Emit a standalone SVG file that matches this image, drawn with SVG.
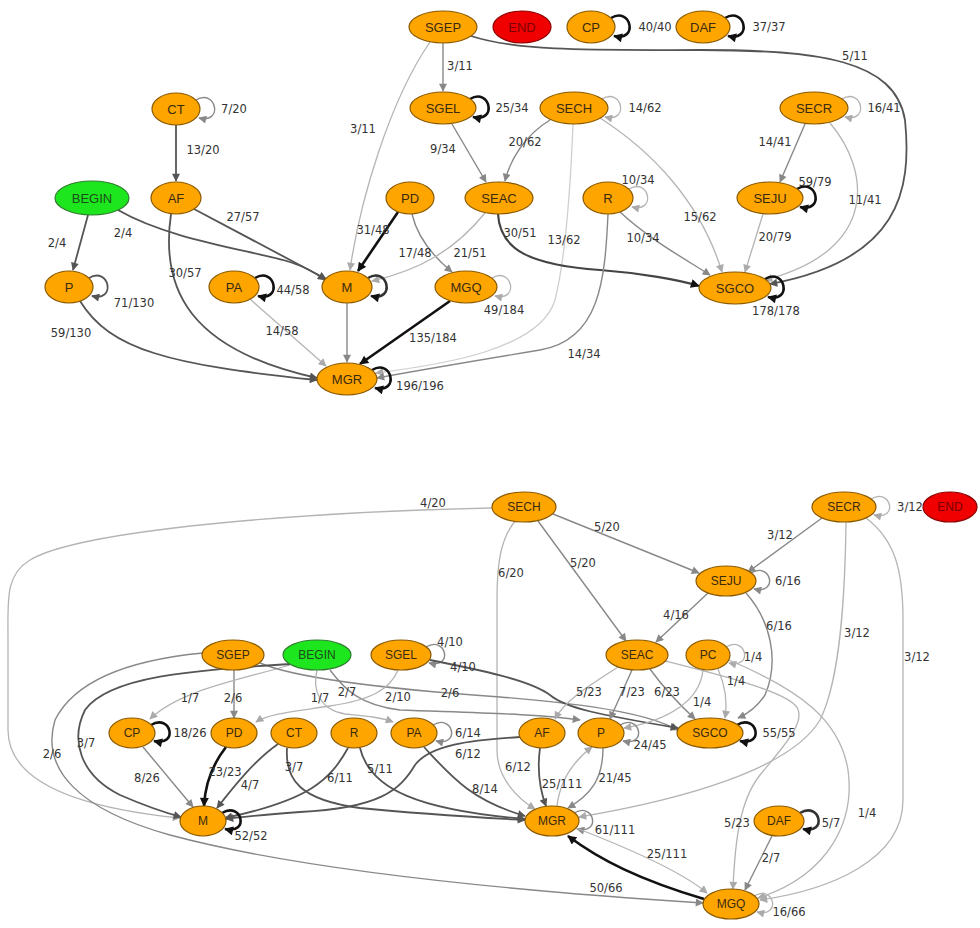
<svg xmlns="http://www.w3.org/2000/svg" width="980" height="928" viewBox="0 0 980 928">
<defs>
<marker id="ad" viewBox="0 0 10 10" refX="9" refY="5" markerWidth="11" markerHeight="9" markerUnits="userSpaceOnUse" orient="auto"><path d="M0,0 L10,5 L0,10 z" fill="#111"/></marker>
<marker id="am" viewBox="0 0 10 10" refX="9" refY="5" markerWidth="10" markerHeight="8" markerUnits="userSpaceOnUse" orient="auto"><path d="M0,0 L10,5 L0,10 z" fill="#555"/></marker>
<marker id="ag" viewBox="0 0 10 10" refX="9" refY="5" markerWidth="10" markerHeight="8" markerUnits="userSpaceOnUse" orient="auto"><path d="M0,0 L10,5 L0,10 z" fill="#888"/></marker>
<marker id="al" viewBox="0 0 10 10" refX="9" refY="5" markerWidth="10" markerHeight="8" markerUnits="userSpaceOnUse" orient="auto"><path d="M0,0 L10,5 L0,10 z" fill="#aaa"/></marker>
</defs>
<style>
.e{fill:none}
.d{stroke:#111;stroke-width:2.6;marker-end:url(#ad)}
.m{stroke:#555;stroke-width:1.8;marker-end:url(#am)}
.g{stroke:#888;stroke-width:1.4;marker-end:url(#ag)}
.l{stroke:#b4b4b4;stroke-width:1.3;marker-end:url(#al)}
.n ellipse{fill:#FFA500;stroke:#8a5a00;stroke-width:1.2}
.n text{font-family:"Liberation Sans",Arial,sans-serif;font-size:13px;fill:#3a2a10;text-anchor:middle}
.b text{font-size:12px}
.st ellipse{fill:#1ee61e;stroke:#2d7d2d}
.st text{fill:#1a4d1a}
.en ellipse{fill:#f00000;stroke:#8b0000}
.en text{fill:#7a0000}
.lb{font-family:"DejaVu Sans",Verdana,sans-serif;font-size:11.5px;fill:#333;text-anchor:middle}
</style>
<rect width="980" height="928" fill="#fff"/>

<g id="edges-top">
<path class="e g" d="M196,100 C216,88 224,124 199,118"/>
<path class="e m" d="M176,125 L176,181"/>
<path class="e m" d="M88,215 L73,270"/>
<path class="e m" d="M118,210 C170,240 250,250 290,262 C305,267 315,272 325,280"/>
<path class="e m" d="M194,209 L326,279"/>
<path class="e m" d="M171,214 C160,290 190,350 317,378"/>
<path class="e m" d="M89,278 C109,266 117,302 92,296"/>
<path class="e m" d="M80,301 C110,350 170,365 317,380"/>
<path class="e d" d="M255,278 C275,266 283,302 258,296"/>
<path class="e l" d="M250,299 L326,366"/>
<path class="e g" d="M443,43 L443,91"/>
<path class="e l" d="M430,42 C390,100 360,200 350,270"/>
<path class="e m" d="M471,36 C520,52 600,50 700,50 C820,50 895,60 905,120 C912,190 900,260 770,284"/>
<path class="e d" d="M470,99 C490,87 498,123 473,117"/>
<path class="e g" d="M452,124 L486,182"/>
<path class="e l" d="M602,99 C622,87 630,123 605,117"/>
<path class="e g" d="M550,120 C525,135 510,160 505,181"/>
<path class="e l" style="stroke:#cfcfcf" d="M573,124 C570,200 565,260 555,300 C540,350 440,365 376,373"/>
<path class="e l" d="M600,118 C650,150 700,200 722,272"/>
<path class="e d" d="M398,212 L358,271"/>
<path class="e g" d="M412,214 C418,240 435,258 452,272"/>
<path class="e l" d="M485,213 C455,250 420,270 372,281"/>
<path class="e d" style="stroke:#444;stroke-width:2.2" d="M498,214 C500,250 530,265 600,270 C640,273 680,280 699,286"/>
<path class="e l" d="M629,189 C649,177 657,213 632,207"/>
<path class="e g" d="M620,212 C650,240 690,262 710,275"/>
<path class="e g" d="M608,214 C605,280 600,340 540,350 C480,360 420,370 377,378"/>
<path class="e d" style="stroke:#333" d="M368,278 C388,266 396,302 371,296"/>
<path class="e g" d="M347,303 L347,362"/>
<path class="e l" d="M492,278 C512,266 520,302 495,296"/>
<path class="e d" d="M450,301 L360,364"/>
<path class="e d" d="M372,370 C392,358 400,394 375,388"/>
<path class="e l" d="M842,99 C862,87 870,123 845,117"/>
<path class="e g" d="M805,124 L780,182"/>
<path class="e l" d="M830,123 C870,170 880,250 765,280"/>
<path class="e d" d="M797,189 C817,177 825,213 800,207"/>
<path class="e l" d="M763,214 L745,272"/>
<path class="e d" d="M765,279 C785,267 793,303 768,297"/>
<path class="e d" d="M611,18 C631,6 639,42 614,36"/>
<path class="e d" d="M725,18 C745,6 753,42 728,36"/>
</g>

<g id="labels-top">
<text class="lb" x="234" y="113">7/20</text>
<text class="lb" x="203" y="154">13/20</text>
<text class="lb" x="57" y="247">2/4</text>
<text class="lb" x="123" y="237">2/4</text>
<text class="lb" x="243" y="221">27/57</text>
<text class="lb" x="185" y="277">30/57</text>
<text class="lb" x="293" y="294">44/58</text>
<text class="lb" x="134" y="307">71/130</text>
<text class="lb" x="71" y="337">59/130</text>
<text class="lb" x="282" y="335">14/58</text>
<text class="lb" x="460" y="70">3/11</text>
<text class="lb" x="512" y="112">25/34</text>
<text class="lb" x="645" y="112">14/62</text>
<text class="lb" x="363" y="133">3/11</text>
<text class="lb" x="443" y="153">9/34</text>
<text class="lb" x="525" y="146">20/62</text>
<text class="lb" x="638" y="184">10/34</text>
<text class="lb" x="373" y="234">31/48</text>
<text class="lb" x="415" y="257">17/48</text>
<text class="lb" x="470" y="257">21/51</text>
<text class="lb" x="520" y="237">30/51</text>
<text class="lb" x="564" y="244">13/62</text>
<text class="lb" x="643" y="242">10/34</text>
<text class="lb" x="700" y="221">15/62</text>
<text class="lb" x="775" y="146">14/41</text>
<text class="lb" x="884" y="112">16/41</text>
<text class="lb" x="815" y="186">59/79</text>
<text class="lb" x="865" y="204">11/41</text>
<text class="lb" x="775" y="241">20/79</text>
<text class="lb" x="855" y="60">5/11</text>
<text class="lb" x="655" y="31">40/40</text>
<text class="lb" x="769" y="31">37/37</text>
<text class="lb" x="504" y="314">49/184</text>
<text class="lb" x="433" y="342">135/184</text>
<text class="lb" x="584" y="358">14/34</text>
<text class="lb" x="420" y="390">196/196</text>
<text class="lb" x="776" y="315">178/178</text>
</g>

<g id="t-SGEP" class="n"><ellipse cx="443" cy="27" rx="34" ry="16"/><text x="443" y="32">SGEP</text></g>
<g id="t-END" class="n en"><ellipse cx="522" cy="27" rx="29" ry="16"/><text x="522" y="32">END</text></g>
<g id="t-CP" class="n"><ellipse cx="591" cy="27" rx="24" ry="16"/><text x="591" y="32">CP</text></g>
<g id="t-DAF" class="n"><ellipse cx="703" cy="27" rx="27" ry="16"/><text x="703" y="32">DAF</text></g>
<g id="t-SGEL" class="n"><ellipse cx="443" cy="108" rx="33" ry="16"/><text x="443" y="113">SGEL</text></g>
<g id="t-SECH" class="n"><ellipse cx="574" cy="108" rx="34" ry="16"/><text x="574" y="113">SECH</text></g>
<g id="t-CT" class="n"><ellipse cx="176" cy="109" rx="24" ry="16"/><text x="176" y="114">CT</text></g>
<g id="t-SECR" class="n"><ellipse cx="814" cy="108" rx="34" ry="16"/><text x="814" y="113">SECR</text></g>
<g id="t-AF" class="n"><ellipse cx="176" cy="198" rx="25" ry="16"/><text x="176" y="203">AF</text></g>
<g id="t-BEGIN" class="n st"><ellipse cx="92" cy="198" rx="37" ry="17"/><text x="92" y="203">BEGIN</text></g>
<g id="t-PD" class="n"><ellipse cx="410" cy="198" rx="24" ry="16"/><text x="410" y="203">PD</text></g>
<g id="t-SEAC" class="n"><ellipse cx="499" cy="198" rx="34" ry="16"/><text x="499" y="203">SEAC</text></g>
<g id="t-R" class="n"><ellipse cx="608" cy="198" rx="25" ry="16"/><text x="608" y="203">R</text></g>
<g id="t-SEJU" class="n"><ellipse cx="770" cy="198" rx="33" ry="16"/><text x="770" y="203">SEJU</text></g>
<g id="t-P" class="n"><ellipse cx="69" cy="287" rx="24" ry="16"/><text x="69" y="292">P</text></g>
<g id="t-PA" class="n"><ellipse cx="234" cy="287" rx="25" ry="16"/><text x="234" y="292">PA</text></g>
<g id="t-M" class="n"><ellipse cx="347" cy="287" rx="25" ry="16"/><text x="347" y="292">M</text></g>
<g id="t-MGQ" class="n"><ellipse cx="466" cy="287" rx="31" ry="16"/><text x="466" y="292">MGQ</text></g>
<g id="t-SGCO" class="n"><ellipse cx="735" cy="288" rx="36" ry="16"/><text x="735" y="293">SGCO</text></g>
<g id="t-MGR" class="n"><ellipse cx="347" cy="379" rx="30" ry="16"/><text x="347" y="384">MGR</text></g>

<g id="edges-bottom">
<path class="e l" d="M492,508 C300,512 80,530 30,560 C5,575 8,600 8,640 L8,730 C8,790 100,810 180,818"/>
<path class="e g" d="M553,514 L699,573"/>
<path class="e g" d="M538,521 L626,641"/>
<path class="e l" d="M515,521 C500,540 497,565 497,600 L497,750 C497,780 520,800 535,809"/>
<path class="e l" d="M871,499 C891,487 899,521 874,515"/>
<path class="e g" d="M822,518 L748,572"/>
<path class="e l" d="M846,522 C845,600 840,680 820,720 C790,770 680,800 579,817"/>
<path class="e l" d="M866,518 C895,540 903,570 903,620 L903,800 C903,860 830,890 760,900"/>
<path class="e g" d="M751,573 C771,561 779,595 754,589"/>
<path class="e g" d="M708,593 L656,642"/>
<path class="e g" d="M746,593 C770,620 780,660 765,695 C755,710 745,715 738,718"/>
<path class="e g" d="M234,670 L234,718"/>
<path class="e l" d="M290,665 C240,680 180,690 150,719"/>
<path class="e g" d="M260,663 C300,680 400,690 500,697 C600,705 650,715 678,730"/>
<path class="e g" d="M203,653 C130,660 75,680 55,720 C40,770 80,810 170,835 C300,870 500,890 703,903"/>
<path class="e m" d="M290,664 C200,670 110,675 85,710 C70,740 80,775 120,795 C150,808 170,814 181,817"/>
<path class="e l" d="M317,670 C312,690 320,710 345,714 C365,716 380,717 393,722"/>
<path class="e g" d="M330,670 C345,690 360,705 400,710 C480,713 540,714 580,720"/>
<path class="e g" d="M426,647 C446,635 454,669 429,663"/>
<path class="e m" d="M430,660 C480,670 530,680 550,695 C565,708 600,715 678,728"/>
<path class="e l" d="M398,670 C390,690 370,700 330,706 C290,712 268,714 256,722"/>
<path class="e l" d="M618,667 C590,685 565,700 555,719"/>
<path class="e g" d="M632,670 L610,719"/>
<path class="e g" d="M650,669 C665,690 680,705 695,719"/>
<path class="e l" d="M665,661 C720,675 780,690 795,705 C810,720 780,750 760,775 C740,800 735,840 733,889"/>
<path class="e l" d="M726,647 C746,635 754,669 729,663"/>
<path class="e l" d="M718,669 C725,685 728,700 725,718"/>
<path class="e l" d="M703,670 C700,700 670,720 624,728"/>
<path class="e l" d="M729,660 C800,690 840,720 848,770 C855,820 830,875 758,898"/>
<path class="e d" d="M151,725 C171,713 179,747 154,741"/>
<path class="e g" d="M143,747 L193,807"/>
<path class="e d" d="M226,747 C212,765 205,785 204,806"/>
<path class="e m" d="M278,744 C255,760 235,785 217,808"/>
<path class="e m" d="M287,748 C285,780 300,800 360,808 C430,815 490,818 525,820"/>
<path class="e m" d="M348,748 C330,780 310,800 225,818"/>
<path class="e m" d="M360,748 C370,790 420,810 525,819"/>
<path class="e g" d="M433,725 C453,713 461,747 436,741"/>
<path class="e m" d="M424,747 C450,775 470,800 525,816"/>
<path class="e m" d="M520,737 C470,740 430,745 415,765 C400,790 380,808 300,812 C260,815 240,817 226,819"/>
<path class="e m" d="M540,748 C537,770 540,790 546,806"/>
<path class="e l" d="M557,806 C560,780 575,760 592,747"/>
<path class="e g" d="M620,725 C640,713 648,747 623,741"/>
<path class="e g" d="M603,748 C603,780 590,795 568,808"/>
<path class="e d" d="M737,725 C757,713 765,747 740,741"/>
<path class="e d" d="M222,813 C242,801 250,835 225,829"/>
<path class="e g" d="M574,813 C594,801 602,835 577,829"/>
<path class="e l" d="M576,828 C620,845 680,870 707,893"/>
<path class="e d" d="M704,899 C640,880 600,860 568,836"/>
<path class="e d" style="stroke:#333" d="M800,813 C820,801 828,835 803,829"/>
<path class="e g" d="M772,836 L745,890"/>
<path class="e l" d="M754,896 C774,884 782,918 757,912"/>
</g>

<g id="labels-bottom">
<text class="lb" x="433" y="507">4/20</text>
<text class="lb" x="607" y="531">5/20</text>
<text class="lb" x="583" y="567">5/20</text>
<text class="lb" x="511" y="577">6/20</text>
<text class="lb" x="910" y="511">3/12</text>
<text class="lb" x="780" y="539">3/12</text>
<text class="lb" x="788" y="585">6/16</text>
<text class="lb" x="676" y="619">4/16</text>
<text class="lb" x="779" y="630">6/16</text>
<text class="lb" x="857" y="637">3/12</text>
<text class="lb" x="917" y="661">3/12</text>
<text class="lb" x="753" y="661">1/4</text>
<text class="lb" x="736" y="685">1/4</text>
<text class="lb" x="702" y="706">1/4</text>
<text class="lb" x="667" y="696">6/23</text>
<text class="lb" x="632" y="696">7/23</text>
<text class="lb" x="589" y="696">5/23</text>
<text class="lb" x="450" y="646">4/10</text>
<text class="lb" x="463" y="671">4/10</text>
<text class="lb" x="450" y="697">2/6</text>
<text class="lb" x="398" y="701">2/10</text>
<text class="lb" x="347" y="696">2/7</text>
<text class="lb" x="320" y="702">1/7</text>
<text class="lb" x="190" y="702">1/7</text>
<text class="lb" x="233" y="702">2/6</text>
<text class="lb" x="190" y="737">18/26</text>
<text class="lb" x="86" y="747">3/7</text>
<text class="lb" x="52" y="758">2/6</text>
<text class="lb" x="147" y="782">8/26</text>
<text class="lb" x="225" y="776">23/23</text>
<text class="lb" x="250" y="789">4/7</text>
<text class="lb" x="294" y="771">3/7</text>
<text class="lb" x="340" y="782">6/11</text>
<text class="lb" x="380" y="773">5/11</text>
<text class="lb" x="468" y="737">6/14</text>
<text class="lb" x="468" y="758">6/12</text>
<text class="lb" x="485" y="793">8/14</text>
<text class="lb" x="518" y="771">6/12</text>
<text class="lb" x="562" y="788">25/111</text>
<text class="lb" x="615" y="782">21/45</text>
<text class="lb" x="650" y="749">24/45</text>
<text class="lb" x="779" y="737">55/55</text>
<text class="lb" x="615" y="834">61/111</text>
<text class="lb" x="667" y="858">25/111</text>
<text class="lb" x="606" y="892">50/66</text>
<text class="lb" x="737" y="827">5/23</text>
<text class="lb" x="831" y="827">5/7</text>
<text class="lb" x="771" y="862">2/7</text>
<text class="lb" x="867" y="817">1/4</text>
<text class="lb" x="251" y="840">52/52</text>
<text class="lb" x="789" y="916">16/66</text>
</g>

<g id="b-SECH" class="n b"><ellipse cx="524" cy="507" rx="32" ry="15"/><text x="524" y="511">SECH</text></g>
<g id="b-SECR" class="n b"><ellipse cx="844" cy="507" rx="32" ry="15"/><text x="844" y="511">SECR</text></g>
<g id="b-END" class="n b en"><ellipse cx="950" cy="507" rx="27" ry="15"/><text x="950" y="511">END</text></g>
<g id="b-SEJU" class="n b"><ellipse cx="726" cy="581" rx="30" ry="15"/><text x="726" y="585">SEJU</text></g>
<g id="b-SGEP" class="n b"><ellipse cx="233" cy="655" rx="31" ry="15"/><text x="233" y="659">SGEP</text></g>
<g id="b-BEGIN" class="n b st"><ellipse cx="317" cy="655" rx="34" ry="15"/><text x="317" y="659">BEGIN</text></g>
<g id="b-SGEL" class="n b"><ellipse cx="401" cy="655" rx="30" ry="15"/><text x="401" y="659">SGEL</text></g>
<g id="b-SEAC" class="n b"><ellipse cx="637" cy="655" rx="31" ry="15"/><text x="637" y="659">SEAC</text></g>
<g id="b-PC" class="n b"><ellipse cx="708" cy="655" rx="22" ry="15"/><text x="708" y="659">PC</text></g>
<g id="b-CP" class="n b"><ellipse cx="132" cy="733" rx="23" ry="15"/><text x="132" y="737">CP</text></g>
<g id="b-PD" class="n b"><ellipse cx="234" cy="733" rx="23" ry="15"/><text x="234" y="737">PD</text></g>
<g id="b-CT" class="n b"><ellipse cx="294" cy="733" rx="23" ry="15"/><text x="294" y="737">CT</text></g>
<g id="b-R" class="n b"><ellipse cx="354" cy="733" rx="23" ry="15"/><text x="354" y="737">R</text></g>
<g id="b-PA" class="n b"><ellipse cx="414" cy="733" rx="23" ry="15"/><text x="414" y="737">PA</text></g>
<g id="b-AF" class="n b"><ellipse cx="542" cy="733" rx="23" ry="15"/><text x="542" y="737">AF</text></g>
<g id="b-P" class="n b"><ellipse cx="601" cy="733" rx="23" ry="15"/><text x="601" y="737">P</text></g>
<g id="b-SGCO" class="n b"><ellipse cx="710" cy="733" rx="33" ry="15"/><text x="710" y="737">SGCO</text></g>
<g id="b-M" class="n b"><ellipse cx="203" cy="821" rx="23" ry="15"/><text x="203" y="825">M</text></g>
<g id="b-MGR" class="n b"><ellipse cx="552" cy="821" rx="27" ry="15"/><text x="552" y="825">MGR</text></g>
<g id="b-DAF" class="n b"><ellipse cx="779" cy="821" rx="25" ry="15"/><text x="779" y="825">DAF</text></g>
<g id="b-MGQ" class="n b"><ellipse cx="731" cy="904" rx="28" ry="15"/><text x="731" y="908">MGQ</text></g>
</svg>
